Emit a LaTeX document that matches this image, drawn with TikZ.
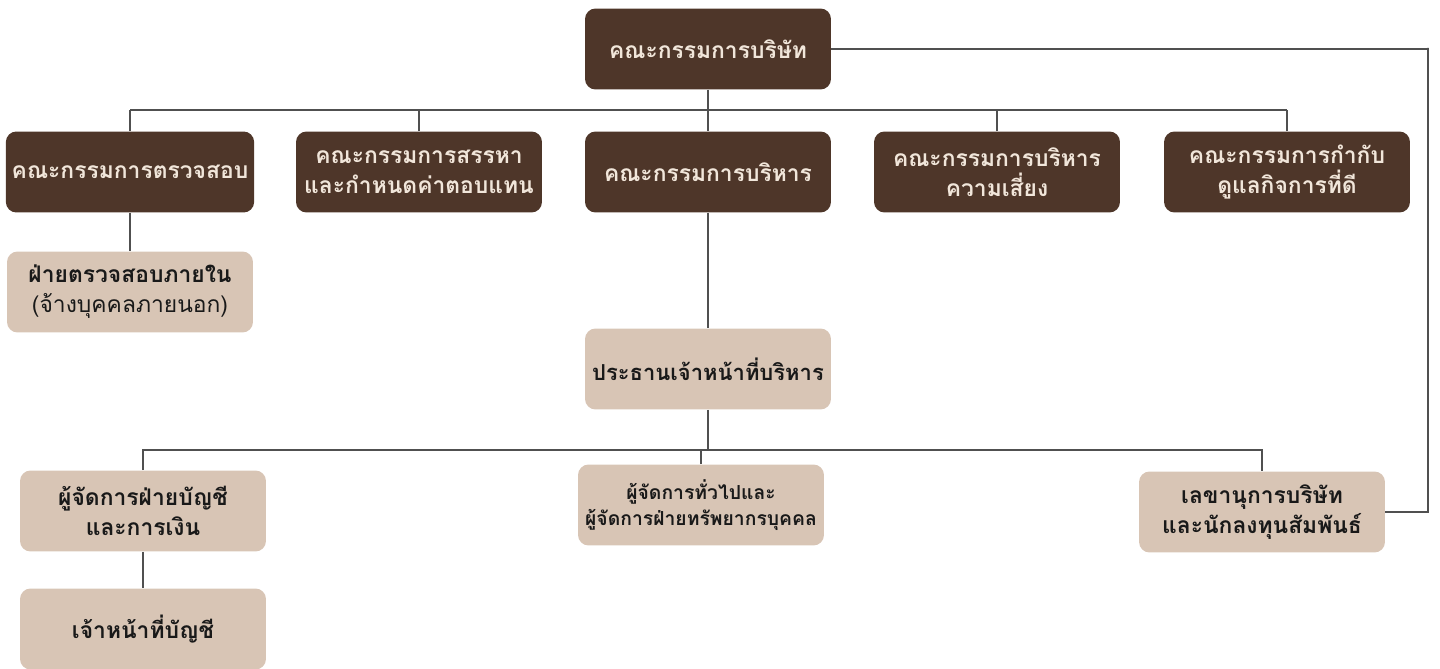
\documentclass[tikz,border=0pt]{standalone}
\usepackage{fontspec}
\newfontfamily\thaifont[Script=Thai]{Loma}
\definecolor{boardbrown}{HTML}{4E3629}
\definecolor{staffbeige}{HTML}{D8C5B5}
\definecolor{creamtext}{HTML}{F1E6DA}
\definecolor{linegray}{HTML}{505050}
\tikzset{
	darkbox/.style={draw=none, fill=boardbrown, rounded corners=6pt, minimum width=4.92cm, minimum height=1.62cm, align=center, text=creamtext, font=\thaifont\bfseries\fontsize{13}{17}\selectfont},
	lightbox/.style={draw=none, fill=staffbeige, rounded corners=6pt, minimum width=4.92cm, minimum height=1.62cm, align=center, text=black!90, font=\thaifont\bfseries\fontsize{13}{17}\selectfont},
	conn/.style={draw=linegray, line width=0.8pt}
}
\begin{document}
\begin{tikzpicture}[x=0.02cm, y=-0.02cm]
				\useasboundingbox (0,0) rectangle (1440,669);
				% board and committees
				\node[darkbox] (board) at (708,49) {คณะกรรมการบริษัท};
				\node[darkbox] (audit) at (130,172) {คณะกรรมการตรวจสอบ};
				\node[darkbox] (nomin) at (419,172) {คณะกรรมการสรรหา\\และกำหนดค่าตอบแทน};
				\node[darkbox] (exec) at (708,172) {คณะกรรมการบริหาร};
				\node[darkbox] (risk) at (997,172) {คณะกรรมการบริหาร\\ความเสี่ยง};
				\node[darkbox] (gov) at (1287,172) {คณะกรรมการกำกับ\\ดูแลกิจการที่ดี};
				% staff
				\node[lightbox] (intaudit) at (130,292) {ฝ่ายตรวจสอบภายใน\\{\mdseries (จ้างบุคคลภายนอก)}};
				\node[lightbox, font=\thaifont\bfseries\fontsize{12.5}{16}\selectfont] (ceo) at (708,369) {ประธานเจ้าหน้าที่บริหาร};
				\node[lightbox] (fin) at (143,511) {ผู้จัดการฝ่ายบัญชี\\และการเงิน};
				\node[lightbox, font=\thaifont\bfseries\fontsize{11}{15}\selectfont] (gm) at (701,505) {ผู้จัดการทั่วไปและ\\ผู้จัดการฝ่ายทรัพยากรบุคคล};
				\node[lightbox] (sec) at (1262,512) {เลขานุการบริษัท\\และนักลงทุนสัมพันธ์};
				\node[lightbox] (acct) at (143,629) {เจ้าหน้าที่บัญชี};
				% upper lines
				\coordinate (busa) at (708,110);
				\draw[conn] (board.south) -- (exec.north);
				\draw[conn] (audit.north |- busa) -- (gov.north |- busa);
				\foreach \n in {audit,nomin,risk,gov}{
					\draw[conn] (\n.north) -- (\n.north |- busa);
				}
				\draw[conn] (audit.south) -- (intaudit.north);
				\draw[conn] (exec.south) -- (ceo.north);
				% lower lines
				\coordinate (busb) at (708,450);
				\draw[conn] (ceo.south) -- (busb);
				\draw[conn] (fin.north) |- (busb) -| (sec.north);
				\draw[conn] (gm.north) -- (gm.north |- busb);
				\draw[conn] (fin.south) -- (acct.north);
				% secretary link
				\coordinate (rt) at (1428,48);
				\draw[conn] (board.east) -| (rt) |- (sec.east);
			\end{tikzpicture}
\end{document}
